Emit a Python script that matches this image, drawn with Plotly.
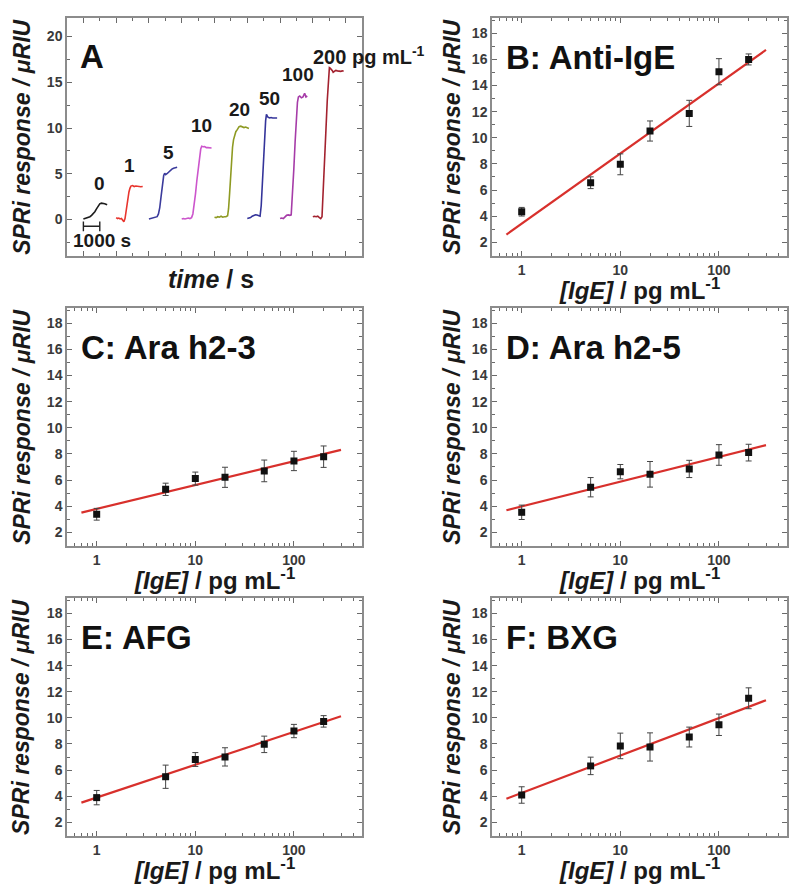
import numpy as np
import plotly.graph_objects as go

# ---------------- Panel A: sensorgrams (time in s relative to each injection start) ----------------
trace_labels = ["0", "1", "5", "10", "20", "50", "100", "200"]
trace_start = [0, 2000, 4000, 6000, 8000, 10000, 12000, 14000]
trace_colors = ["#1c1c1c", "#e8352e", "#3b3b9c", "#cc55cc", "#8e9a22", "#34349a", "#a63ca8", "#a3222f"]

t_0 = [0, 100, 200, 300, 400, 500, 600, 700, 800, 900, 1000, 1100, 1200, 1300, 1450]
y_0 = [0.05, 0.1, 0.12, 0.2, 0.3, 0.45, 0.62, 0.85, 1.15, 1.45, 1.7, 1.78, 1.76, 1.72, 1.6]
t_1 = [0, 80, 160, 240, 320, 400, 470, 540, 600, 660, 720, 780, 840, 900, 1000, 1100, 1200, 1300, 1400, 1500, 1620]
y_1 = [0.2, 0.1, 0.15, 0.05, 0.1, -0.1, -0.25, 0.1, 0.9, 1.7, 2.4, 3.0, 3.4, 3.65, 3.7, 3.6, 3.65, 3.6, 3.62, 3.58, 3.6]
t_5 = [0, 100, 200, 300, 400, 500, 580, 660, 740, 820, 900, 960, 1020, 1100, 1200, 1300, 1400, 1500, 1600, 1720]
y_5 = [0.05, 0.1, 0.08, 0.15, 0.2, 0.3, 0.6, 1.3, 2.5, 3.9, 4.8, 5.05, 4.9, 5.0, 5.2, 5.4, 5.5, 5.6, 5.65, 5.7]
t_10 = [0, 100, 200, 300, 400, 500, 600, 680, 760, 840, 920, 1000, 1080, 1160, 1220, 1300, 1400, 1500, 1600, 1700, 1820]
y_10 = [0.05, 0.1, 0.05, 0.1, 0.15, 0.1, 0.2, 0.6, 1.5, 2.8, 4.2, 5.6, 6.9, 7.7, 8.0, 7.95, 7.98, 7.85, 7.85, 7.8, 7.82]
t_20 = [0, 100, 200, 300, 400, 500, 600, 700, 800, 860, 920, 980, 1040, 1100, 1160, 1220, 1300, 1400, 1500, 1600, 1700, 1800, 1900, 2000, 2100]
y_20 = [0.25, 0.2, 0.3, 0.25, 0.35, 0.25, 0.3, 0.3, 0.4, 1.2, 2.8, 4.8, 6.6, 7.9, 8.7, 9.2, 9.6, 9.85, 10.15, 10.2, 10.1, 10.05, 10.1, 10.0, 9.95]
t_50 = [0, 100, 200, 300, 400, 500, 600, 700, 780, 850, 920, 990, 1060, 1120, 1170, 1250, 1350, 1450, 1550, 1650, 1750, 1820]
y_50 = [0.1, 0.15, 0.2, 0.35, 0.45, 0.5, 0.48, 0.45, 0.35, 1.5, 4.0, 6.8, 9.2, 10.8, 11.5, 11.2, 11.1, 11.15, 11.1, 11.12, 11.08, 11.1]
t_100 = [0, 100, 200, 300, 400, 500, 600, 680, 760, 840, 920, 1000, 1060, 1120, 1200, 1300, 1400, 1500, 1580, 1660]
y_100 = [0.1, 0.15, 0.1, 0.3, 0.45, 0.5, 0.45, 0.5, 2.5, 5.5, 8.5, 11.2, 12.8, 13.4, 13.5, 13.3, 13.4, 13.8, 13.4, 13.5]
t_200 = [0, 100, 200, 300, 400, 480, 560, 640, 720, 800, 880, 960, 1010, 1060, 1120, 1180, 1240, 1300, 1400, 1500, 1600, 1700, 1800, 1880]
y_200 = [0.3, 0.35, 0.3, 0.35, 0.2, 0.1, 0.3, 3.0, 6.5, 9.8, 13.0, 15.8, 16.6, 16.55, 16.45, 16.3, 16.1, 16.15, 16.3, 16.25, 16.2, 16.2, 16.25, 16.2]

trace_t = [t_0, t_1, t_5, t_10, t_20, t_50, t_100, t_200]
trace_y = [y_0, y_1, y_5, y_10, y_20, y_50, y_100, y_200]

scale_bar_t = [0, 1000]
scale_bar_y = [-0.75, -0.75]

# ---------------- Panels B-F: calibration (mean +/- error) ----------------
conc = [1, 5, 10, 20, 50, 100, 200]
antiIgE_y = [4.34, 6.56, 7.97, 10.52, 11.87, 15.06, 16.0]
antiIgE_err = [0.33, 0.45, 0.8, 0.77, 1.0, 1.0, 0.42]
arah23_y = [3.38, 5.29, 6.11, 6.21, 6.70, 7.46, 7.79]
arah23_err = [0.45, 0.47, 0.5, 0.77, 0.83, 0.74, 0.82]
arah25_y = [3.53, 5.45, 6.64, 6.44, 6.85, 7.92, 8.1]
arah25_err = [0.55, 0.74, 0.55, 0.98, 0.66, 0.79, 0.64]
afg_y = [3.89, 5.49, 6.81, 7.01, 7.97, 8.99, 9.73]
afg_err = [0.55, 0.89, 0.53, 0.7, 0.63, 0.51, 0.44]
bxg_y = [4.09, 6.32, 7.85, 7.77, 8.53, 9.47, 11.5]
bxg_err = [0.63, 0.67, 0.98, 1.08, 0.76, 0.82, 0.8]
fit_range = [0.7, 300]

panel_titles = ["B: Anti-IgE", "C: Ara h2-3", "D: Ara h2-5", "E: AFG", "F: BXG"]
panel_y = [antiIgE_y, arah23_y, arah25_y, afg_y, bxg_y]
panel_err = [antiIgE_err, arah23_err, arah25_err, afg_err, bxg_err]

# ---------------- layout geometry ----------------
W, H = 800, 888
OFF = 8  # page body margin in the browser
FONT = "Liberation Sans, Arial, Helvetica, sans-serif"
col_px = [(67, 362), (492, 787)]
row_px = [(18.3, 256), (308.3, 546), (598.4, 836)]


def px_x(px):
    return (px - OFF) / W


def px_y(py):
    return 1 - (py - OFF) / H


def xd(c):
    return [px_x(col_px[c][0]), px_x(col_px[c][1])]


def yd(r):
    return [px_y(row_px[r][1]), px_y(row_px[r][0])]


axis_common = dict(
    showline=True, linecolor="#8c8c8c", linewidth=1.5, mirror="ticks",
    ticks="inside", ticklen=5, tickwidth=1, tickcolor="#6a6a6a",
    showgrid=False, zeroline=False,
    tickfont=dict(family=FONT, size=14, color="#3a3a3a", weight="bold"),
)
minor_common = dict(ticks="inside", ticklen=3, tickwidth=1, tickcolor="#6a6a6a", showgrid=False)

fig = go.Figure()
layout = dict(
    width=W, height=H, margin=dict(l=0, r=0, t=0, b=0),
    paper_bgcolor="white", plot_bgcolor="white", showlegend=False,
)
annotations = []


def ann(**kw):
    base = dict(showarrow=False, xanchor="center", yanchor="middle")
    base.update(kw)
    annotations.append(base)


# Panel A axes
layout["xaxis"] = dict(axis_common, domain=xd(0), anchor="y", range=[-1000, 17000],
                       tick0=0, dtick=2000, showticklabels=False,
                       minor=dict(minor_common, dtick=1000, tick0=0))
layout["yaxis"] = dict(axis_common, domain=yd(0), anchor="x", range=[-4, 22],
                       tick0=0, dtick=5, minor=dict(minor_common, dtick=2.5, tick0=0))

for k in range(len(trace_t)):
    fig.add_trace(go.Scatter(
        x=np.array(trace_t[k]) + trace_start[k], y=trace_y[k], mode="lines",
        line=dict(color=trace_colors[k], width=1.6), xaxis="x", yaxis="y",
        hoverinfo="skip"))

fig.add_trace(go.Scatter(
    x=scale_bar_t, y=scale_bar_y, mode="lines+markers",
    line=dict(color="#222222", width=1.4),
    marker=dict(symbol="line-ns", size=7, line=dict(color="#222222", width=1.4)),
    xaxis="x", yaxis="y", hoverinfo="skip"))

label_pos = [(1000, 3.9), (2830, 5.95), (5195, 7.3), (7220, 10.25),
             (9545, 12.0), (11365, 13.2), (13080, 15.9)]
lab_font = dict(family=FONT, size=19, color="#1a1a1a")
for lab, (lx, ly) in zip(trace_labels[:-1], label_pos):
    ann(x=lx, y=ly, xref="x", yref="y", text="<b>%s</b>" % lab, font=lab_font)
ann(x=13900, y=17.9, xref="x", yref="y", xanchor="left",
    text="<b>%s pg mL<sup>-1</sup></b>" % trace_labels[-1], font=dict(lab_font, size=20))
ann(x=1150, y=-2.3, xref="x", yref="y", text="<b>1000 s</b>", font=lab_font)
ann(x=0.037, y=0.838, xref="x domain", yref="y domain", xanchor="left",
    text="<b>A</b>", font=dict(family=FONT, size=33, color="#111111"))
ann(x=px_x(211), y=px_y(279), xref="paper", yref="paper",
    text="<b><i>time</i> / s</b>", font=dict(family=FONT, size=25, color="#1a1a1a"))

# Panels B-F
cells = [(0, 1), (1, 0), (1, 1), (2, 0), (2, 1)]
for i, (r, c) in enumerate(cells):
    n = i + 2
    xa, ya = "x%d" % n, "y%d" % n
    layout["xaxis%d" % n] = dict(
        axis_common, type="log", domain=xd(c), anchor=ya, range=[np.log10(0.5), 2.69],
        tickmode="array", tickvals=[1, 10, 100], ticktext=["1", "10", "100"],
        minor=dict(minor_common, tickmode="array",
                   tickvals=[0.6, 0.7, 0.8, 0.9, 2, 3, 4, 5, 6, 7, 8, 9,
                             20, 30, 40, 50, 60, 70, 80, 90, 200, 300, 400]))
    layout["yaxis%d" % n] = dict(
        axis_common, domain=yd(r), anchor=xa, range=[0.95, 19.15],
        tickmode="array", tickvals=list(range(2, 19, 2)),
        minor=dict(minor_common, tickmode="array", tickvals=list(range(1, 20, 2))))

    yv = np.array(panel_y[i])
    slope, icpt = np.polyfit(np.log10(conc), yv, 1)
    xf = np.array(fit_range)
    fig.add_trace(go.Scatter(x=xf, y=icpt + slope * np.log10(xf), mode="lines",
                             line=dict(color="#d8302c", width=2.2),
                             xaxis=xa, yaxis=ya, hoverinfo="skip"))
    fig.add_trace(go.Scatter(
        x=conc, y=panel_y[i], mode="markers",
        marker=dict(symbol="square", size=7, color="#111111"),
        error_y=dict(type="data", array=panel_err[i], color="#444444", thickness=1, width=3),
        xaxis=xa, yaxis=ya, hoverinfo="skip"))

    ann(x=0.042, y=0.836, xref="%s domain" % xa, yref="%s domain" % ya, xanchor="left",
        text="<b>%s</b>" % panel_titles[i], font=dict(family=FONT, size=33, color="#111111"))
    x_center = (col_px[c][0] + col_px[c][1]) / 2
    ann(x=px_x(x_center), y=px_y(row_px[r][1] + 33), xref="paper", yref="paper",
        text="<b><i>[IgE]</i> / pg mL<sup>-1</sup></b>",
        font=dict(family=FONT, size=24, color="#1a1a1a"))

# y titles for all panels
for r in range(3):
    for c in range(2):
        xpx = 21.7 if c == 0 else 451.7
        ymid = (row_px[r][0] + row_px[r][1]) / 2
        ann(x=px_x(xpx), y=px_y(ymid), xref="paper", yref="paper", textangle=-90,
            text="<b><i>SPRi response / μRIU</i></b>",
            font=dict(family=FONT, size=23, color="#1a1a1a"))

layout["annotations"] = annotations
fig.update_layout(**layout)
fig.write_html("out.html")
